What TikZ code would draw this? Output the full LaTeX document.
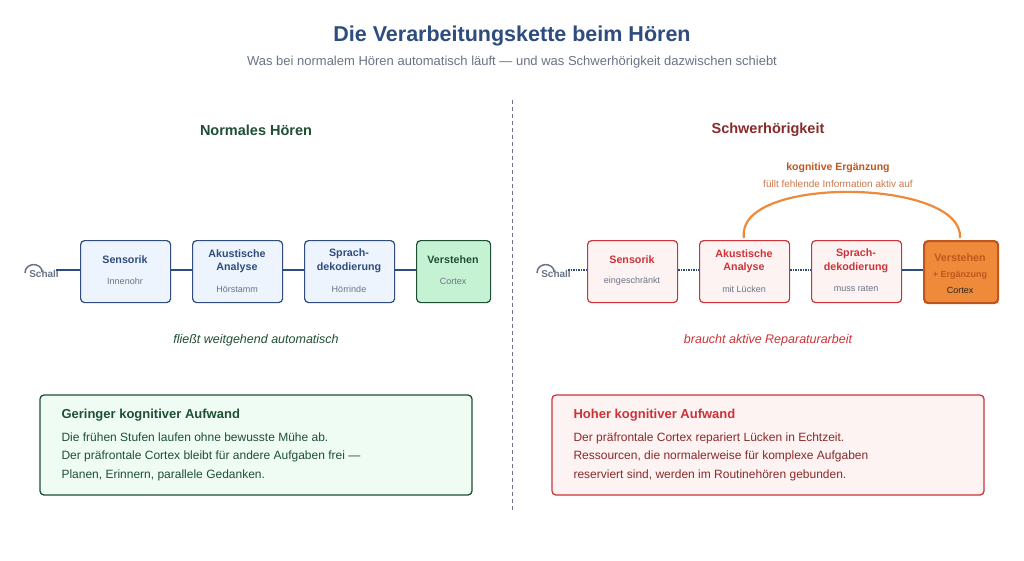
\documentclass[tikz,border=0pt]{standalone}
\usepackage{fontspec}
\setmainfont{Liberation Sans}
\begin{document}
\definecolor{navy}{HTML}{2E4C7E}
\definecolor{gdark}{HTML}{1F4F35}
\definecolor{rdark}{HTML}{8A2A2A}
\definecolor{rbox}{HTML}{CC3338}
\definecolor{org}{HTML}{EE8A3A}
\definecolor{orgd}{HTML}{C0561F}
\definecolor{grey}{HTML}{6B7385}
\definecolor{bfill}{HTML}{EDF4FD}
\definecolor{gfill}{HTML}{C5F2D3}
\definecolor{rfill}{HTML}{FDF3F3}
\definecolor{glight}{HTML}{EFFCF3}
\begin{tikzpicture}[x=1pt,y=-1pt,
  box/.style={draw=navy,line width=1.2pt,fill=bfill,rounded corners=4pt,minimum width=90pt,minimum height=62pt,anchor=north west,inner sep=0pt},
  rbx/.style={box,draw=rbox,fill=rfill},
  lab/.style={font=\fontsize{10.7}{13.5}\selectfont\bfseries,align=center},
  sub/.style={font=\fontsize{9}{11}\selectfont,text=grey},
  con/.style={draw=navy,line width=2pt},
  dcon/.style={draw=navy,line width=2pt,dash pattern=on 1.5pt off 1pt}]
\useasboundingbox (0,0) rectangle (1024,560);
\fill[white] (0,0) rectangle (1024,560);
\node[font=\fontsize{21.5}{24}\selectfont\bfseries,text=navy] (t) at (512,36) {Die Verarbeitungskette beim Hören};
\node[font=\fontsize{13}{15}\selectfont,text=grey] (st) at (512,62) {Was bei normalem Hören automatisch läuft — und was Schwerhörigkeit dazwischen schiebt};
\draw[grey,dash pattern=on 4pt off 3pt] (512,100) coordinate(d1) -- (512,510) coordinate(d2);
\node[font=\fontsize{14.5}{17}\selectfont\bfseries,text=gdark] (hl) at (256,130) {Normales Hören};
\node[font=\fontsize{14.5}{17}\selectfont\bfseries,text=rdark] (hr) at (768,130) {Schwerhörigkeit};
% left chain
\draw[grey,line width=1.5pt] (25,273) .. controls (25,262) and (42,262) .. (42,272);
\node[font=\fontsize{10}{12}\selectfont\bfseries,text=grey] (s1) at (44,274) {Schall};
\node[box] (a1) at (80,240) {};
\node[box] (a2) at (192,240) {};
\node[box] (a3) at (304,240) {};
\node[box,minimum width=74pt,draw=gdark,fill=gfill] (a4) at (416,240) {};
\node[lab,text=navy] at (125,260) {Sensorik};
\node[sub] at (125,281) {Innenohr};
\node[lab,text=navy] at (237,261) {Akustische\\Analyse};
\node[sub] at (237,289) {Hörstamm};
\node[lab,text=navy] at (349,261) {Sprach-\\dekodierung};
\node[sub] at (349,289) {Hörrinde};
\node[lab,text=gdark] at (453,260) {Verstehen};
\node[sub] at (453,281) {Cortex};
\draw[con] (56,270) -- (a1.west|-0,270);
\draw[con] (a1.east|-0,270) -- (a2.west|-0,270);
\draw[con] (a2.east|-0,270) -- (a3.west|-0,270);
\draw[con] (a3.east|-0,270) -- (a4.west|-0,270);
\node[font=\fontsize{12.5}{15}\selectfont\itshape,text=gdark] (cl) at (256,340) {fließt weitgehend automatisch};
% right chain
\draw[grey,line width=1.5pt] (537,273) .. controls (537,262) and (554,262) .. (554,272);
\node[font=\fontsize{10}{12}\selectfont\bfseries,text=grey] (s2) at (556,274) {Schall};
\node[rbx] (b1) at (587,240) {};
\node[rbx] (b2) at (699,240) {};
\node[rbx] (b3) at (811,240) {};
\node[box,minimum width=74pt,draw=orgd,line width=2.2pt,fill=org] (b4) at (923,240) {};
\node[lab,text=rbox] at (632,260) {Sensorik};
\node[sub] at (632,281) {eingeschränkt};
\node[lab,text=rbox] at (744,261) {Akustische\\Analyse};
\node[sub] at (744,289) {mit Lücken};
\node[lab,text=rbox] at (856,261) {Sprach-\\dekodierung};
\node[sub] at (856,289) {muss raten};
\node[lab,text=orgd] at (960,258) {Verstehen};
\node[font=\fontsize{9}{11}\selectfont\bfseries,text=orgd] at (960,275) {+ Ergänzung};
\node[sub,text=gray!30!black] at (960,290) {Cortex};
\draw[dcon] (568,270) -- (b1.west|-0,270);
\draw[dcon] (b1.east|-0,270) -- (b2.west|-0,270);
\draw[dcon] (b2.east|-0,270) -- (b3.west|-0,270);
\draw[con] (b3.east|-0,270) -- (b4.west|-0,270);
\draw[org,line width=2.2pt] (744,238) .. controls (734,175) and (964,178) .. (960,238);
\node[font=\fontsize{10.5}{12}\selectfont\bfseries,text=orgd] (k1) at (838,168) {kognitive Ergänzung};
\node[font=\fontsize{10}{12}\selectfont,text=orgd!80] (k2) at (838,184) {füllt fehlende Information aktiv auf};
\node[font=\fontsize{12.5}{15}\selectfont\itshape,text=rbox] (cr) at (768,340) {braucht aktive Reparaturarbeit};
% bottom boxes
\draw[gdark,line width=1.3pt,fill=glight,rounded corners=4pt] (40,395) rectangle (472,495);
\node[anchor=west,font=\fontsize{13}{15}\selectfont\bfseries,text=gdark] (g1) at (58,415) {Geringer kognitiver Aufwand};
\node[anchor=north west,align=left,font=\fontsize{12}{18.7}\selectfont,text=gdark] (g2) at (58,429) {Die frühen Stufen laufen ohne bewusste Mühe ab.\\Der präfrontale Cortex bleibt für andere Aufgaben frei —\\Planen, Erinnern, parallele Gedanken.};
\draw[rbox,line width=1.3pt,fill=rfill,rounded corners=4pt] (552,395) rectangle (984,495);
\node[anchor=west,font=\fontsize{13}{15}\selectfont\bfseries,text=rbox] (h1) at (570,415) {Hoher kognitiver Aufwand};
\node[anchor=north west,align=left,font=\fontsize{12}{18.7}\selectfont,text=rdark] (h2) at (570,429) {Der präfrontale Cortex repariert Lücken in Echtzeit.\\Ressourcen, die normalerweise für komplexe Aufgaben\\reserviert sind, werden im Routinehören gebunden.};
\end{tikzpicture}
\end{document}
